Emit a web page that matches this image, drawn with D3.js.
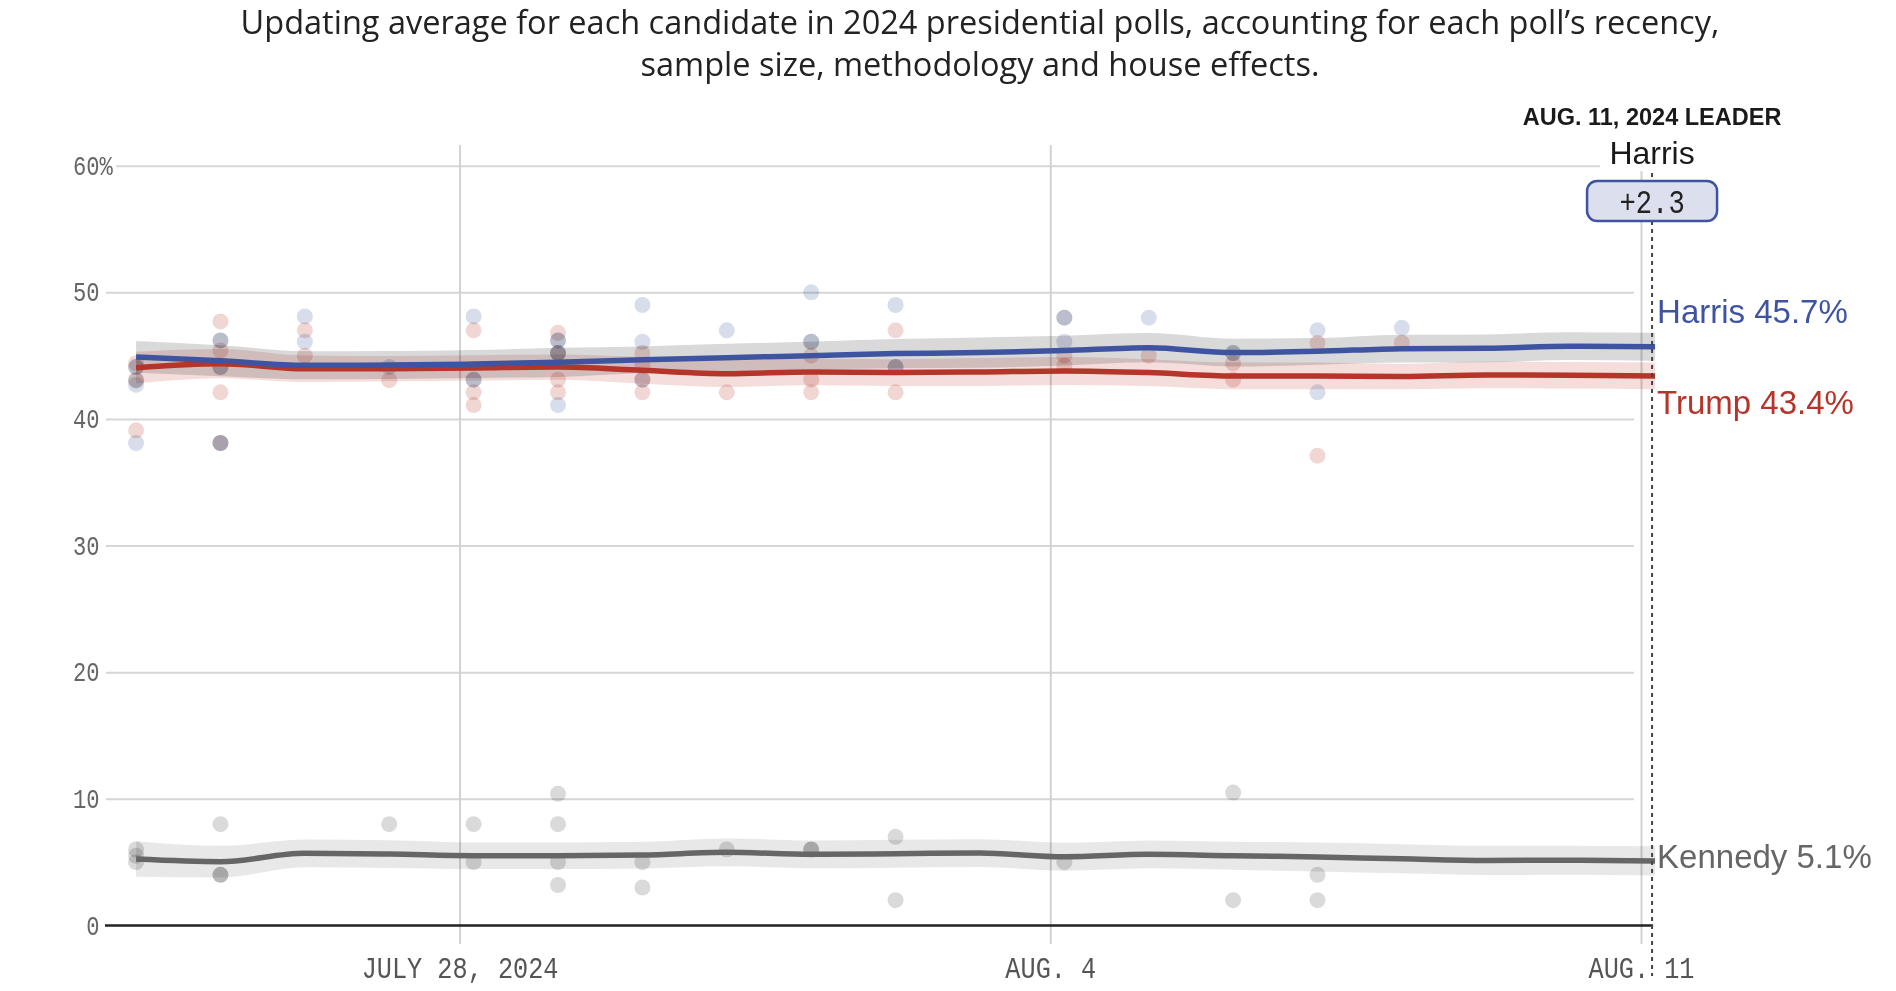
<!DOCTYPE html>
<html><head><meta charset="utf-8">
<script src="https://cdn.jsdelivr.net/npm/d3@7"></script>
<style>
html,body{margin:0;padding:0;background:#fff;}
svg{display:block;}
</style></head><body>
<svg id="chart" width="1896" height="991"></svg>
<script>
// ---------------- DATA ----------------
const dayStrings = ["2024-07-24","2024-07-25","2024-07-26","2024-07-27","2024-07-28","2024-07-29","2024-07-30","2024-07-31","2024-08-01","2024-08-02","2024-08-03","2024-08-04","2024-08-05","2024-08-06","2024-08-07","2024-08-08","2024-08-09","2024-08-10","2024-08-11"];
const harrisAvg  = [44.9,44.6,44.24,44.26,44.34,44.47,44.68,44.84,45.0,45.16,45.24,45.4,45.63,45.24,45.34,45.55,45.58,45.75,45.7];
const trumpAvg   = [44.05,44.37,43.97,43.97,44.03,44.1,43.84,43.58,43.71,43.66,43.71,43.79,43.66,43.4,43.4,43.35,43.48,43.45,43.4];
const kennedyAvg = [5.25,5.04,5.7,5.64,5.51,5.51,5.56,5.78,5.62,5.67,5.72,5.43,5.62,5.51,5.41,5.27,5.14,5.15,5.1];
const harrisBand  = [1.25,1.22,1.1,1.1,1.1,1.15,1.05,1.1,1.1,1.15,1.2,1.17,1.16,1.1,1.05,1.1,1.1,1.1,1.1];
const trumpBand   = [1.25,1.15,1.05,1.0,1.0,1.0,1.05,1.05,1.05,1.05,1.1,1.1,1.05,1.05,1.05,1.0,1.05,1.05,1.05];
const kennedyBand = [1.4,1.25,1.1,1.1,1.05,1.05,1.05,1.1,1.1,1.1,1.1,1.1,1.1,1.1,1.15,1.15,1.15,1.15,1.15];
// individual polls: [date, value, strong(1)/light(0)]
const harrisPolls = [
 ["2024-07-24",44.1,1],["2024-07-24",42.7,0],["2024-07-24",38.1,0],
 ["2024-07-25",46.2,1],["2024-07-25",44.1,1],["2024-07-25",38.1,0],
 ["2024-07-26",48.1,0],["2024-07-26",46.1,0],
 ["2024-07-27",44.1,0],
 ["2024-07-28",48.1,0],["2024-07-28",43.1,1],
 ["2024-07-29",46.2,1],["2024-07-29",45.2,0],["2024-07-29",41.1,0],
 ["2024-07-30",49.0,0],["2024-07-30",46.1,0],["2024-07-30",43.1,0],
 ["2024-07-31",47.0,0],
 ["2024-08-01",50.0,0],["2024-08-01",46.1,1],
 ["2024-08-02",49.0,0],["2024-08-02",44.1,1],
 ["2024-08-04",48.0,1],["2024-08-04",46.1,0],
 ["2024-08-05",48.0,0],
 ["2024-08-06",45.2,1],
 ["2024-08-07",47.0,0],["2024-08-07",42.1,0],
 ["2024-08-08",47.2,0]
];
const trumpPolls = [
 ["2024-07-24",44.4,0],["2024-07-24",43.06,1],["2024-07-24",39.1,0],
 ["2024-07-25",47.7,0],["2024-07-25",45.4,0],["2024-07-25",42.1,0],["2024-07-25",38.1,1],
 ["2024-07-26",47.0,0],["2024-07-26",45.0,0],
 ["2024-07-27",43.06,0],
 ["2024-07-28",47.0,0],["2024-07-28",42.1,0],["2024-07-28",41.1,0],
 ["2024-07-29",46.8,0],["2024-07-29",45.2,1],["2024-07-29",43.1,0],["2024-07-29",42.1,0],
 ["2024-07-30",45.2,0],["2024-07-30",44.2,0],["2024-07-30",43.1,0],["2024-07-30",42.1,0],
 ["2024-07-31",42.1,0],
 ["2024-08-01",45.0,0],["2024-08-01",43.1,0],["2024-08-01",42.1,0],
 ["2024-08-02",47.0,0],["2024-08-02",42.1,0],
 ["2024-08-04",45.0,0],["2024-08-04",44.2,0],
 ["2024-08-05",45.0,0],
 ["2024-08-06",44.4,0],["2024-08-06",43.1,0],
 ["2024-08-07",46.0,0],["2024-08-07",37.1,0],
 ["2024-08-08",46.0,0]
];
const kennedyPolls = [
 ["2024-07-24",6.0,0],["2024-07-24",5.5,0],["2024-07-24",5.0,0],
 ["2024-07-25",8.0,0],["2024-07-25",4.0,1],
 ["2024-07-27",8.0,0],
 ["2024-07-28",8.0,0],["2024-07-28",5.0,0],
 ["2024-07-29",10.4,0],["2024-07-29",8.0,0],["2024-07-29",5.0,0],["2024-07-29",3.2,0],
 ["2024-07-30",5.0,0],["2024-07-30",3.0,0],
 ["2024-07-31",6.0,0],
 ["2024-08-01",6.0,1],
 ["2024-08-02",7.0,0],["2024-08-02",2.0,0],
 ["2024-08-04",5.0,0],
 ["2024-08-06",10.5,0],["2024-08-06",2.0,0],
 ["2024-08-07",4.0,0],["2024-08-07",2.0,0]
];
const candidateNames = ["Harris","Trump","Kennedy"];
const yTicks = [0,10,20,30,40,50,60];
const xTickDates = ["2024-07-28","2024-08-04","2024-08-11"];
const xTickLabels = ["JULY 28, 2024","AUG. 4","AUG. 11"];
const titleLines = ["Updating average for each candidate in 2024 presidential polls, accounting for each poll\u2019s recency,","sample size, methodology and house effects."];
const leaderHeading = "AUG. 11, 2024 LEADER";

// ---------------- STYLE ----------------
const colors = {Harris:"#3e54a0", Trump:"#b5352a", Kennedy:"#666666"};
const bandColors = {Harris:"#d9d9d9", Trump:"#f5dddb", Kennedy:"#e8e8e8"};
const strongColors = {Harris:"#5b6184", Trump:"#7d5b58", Kennedy:"#555555"};
const labelDy = {Harris:-35, Trump:27, Kennedy:-4};
const monoFont = "'Liberation Mono', 'DejaVu Sans Mono', monospace";
const sansFont = "'Liberation Sans', Arial, sans-serif";
const titleFont = "'Open Sans', 'Noto Sans', sans-serif";
const titleWidth = 1479;

const candidates = [
  {name:"Kennedy", avg:kennedyAvg, band:kennedyBand, polls:kennedyPolls},
  {name:"Trump", avg:trumpAvg, band:trumpBand, polls:trumpPolls},
  {name:"Harris", avg:harrisAvg, band:harrisBand, polls:harrisPolls}
];

// ---------------- SCALES ----------------
const parse = d3.utcParse("%Y-%m-%d");
const ET_SHIFT_HOURS = 4;               // poll dates are plotted in Eastern time
const at = s => d3.utcHour.offset(parse(s), ET_SHIFT_HOURS);

const x = d3.scaleUtc()
  .domain([parse(dayStrings[0]), parse(dayStrings[dayStrings.length-1])])
  .range([122, 1641]);
const y = d3.scaleLinear().domain([0,60]).range([925.5,165.7]);

const gridLeft = 106, gridRight = 1634, vTop = 145, vBottom = 944;
const xEnd = x(at(dayStrings[dayStrings.length-1]));
const leaderX = xEnd - 3;

const svg = d3.select("#chart");

// ---------------- TITLE ----------------
const titleTexts = svg.append("g").selectAll("text").data(titleLines).join("text")
  .attr("x",980).attr("y",(d,i)=>34+i*42)
  .attr("text-anchor","middle")
  .attr("font-family",titleFont).attr("font-size",28).attr("fill","#222")
  .text(d=>d);
const measured = titleTexts.node().getComputedTextLength();
if (measured > 0) titleTexts.attr("font-size", 28 * titleWidth / measured);

// ---------------- AXES / GRID ----------------
const yAxisG = svg.append("g").attr("transform",`translate(${gridLeft},0)`)
  .call(d3.axisLeft(y).tickValues(yTicks).tickSize(-(gridRight-gridLeft)).tickPadding(8));
yAxisG.select(".domain").remove();
yAxisG.selectAll(".tick line")
  .attr("stroke","#d6d6d6").attr("stroke-width",2)
  .attr("x1",d=>d===60?10:0)
  .attr("display",d=>d===0?"none":null);
yAxisG.selectAll(".tick text")
  .attr("font-family",monoFont).attr("font-size",27).attr("fill","#666")
  .attr("transform","scale(0.82,1)");
yAxisG.selectAll(".tick").filter(d=>d===60).append("text")
  .attr("x",-8).attr("dy","0.32em").attr("text-anchor","start")
  .attr("font-family",monoFont).attr("font-size",27).attr("fill","#666")
  .attr("transform","scale(0.82,1)").text("%");

const xAxisG = svg.append("g").attr("transform",`translate(0,${vBottom})`)
  .call(d3.axisBottom(x).tickValues(xTickDates.map(parse))
    .tickSize(-(vBottom-vTop)).tickPadding(13)
    .tickFormat((d,i)=>xTickLabels[i]));
xAxisG.select(".domain").remove();
xAxisG.selectAll(".tick line").attr("stroke","#d2d2d2").attr("stroke-width",2);
xAxisG.selectAll(".tick text")
  .attr("font-family",monoFont).attr("font-size",29).attr("fill","#555")
  .attr("transform","scale(0.87,1)");

// ---------------- BANDS ----------------
const bandG = svg.append("g");
candidates.forEach(c=>{
  const area = d3.area()
    .x((d,i)=>x(at(dayStrings[i])))
    .y0((d,i)=>y(d - c.band[i]))
    .y1((d,i)=>y(d + c.band[i]))
    .curve(d3.curveMonotoneX);
  bandG.append("path").datum(c.avg)
    .attr("d",area).attr("fill",bandColors[c.name])
    .style("mix-blend-mode","multiply");
});

// ---------------- DOTS ----------------
const dotG = svg.append("g");
["Kennedy","Trump","Harris"].forEach(name=>{
  const c = candidates.find(k=>k.name===name);
  dotG.append("g").selectAll("circle").data(c.polls).join("circle")
    .attr("cx",d=>x(at(d[0]))).attr("cy",d=>y(d[1])).attr("r",8)
    .attr("fill",d=>d[2]?strongColors[name]:colors[name])
    .attr("fill-opacity",d=>d[2]?0.42:(name==="Kennedy"?0.24:0.2))
    .style("mix-blend-mode","multiply");
});

// ---------------- BASELINE ----------------
svg.append("line").attr("x1",gridLeft-1).attr("x2",xEnd-2)
  .attr("y1",y(0)).attr("y2",y(0)).attr("stroke","#222").attr("stroke-width",2.5);

// ---------------- LINES ----------------
const lineG = svg.append("g");
candidates.forEach(c=>{
  const line = d3.line()
    .x((d,i)=>x(at(dayStrings[i])))
    .y(d=>y(d))
    .curve(d3.curveMonotoneX);
  lineG.append("path").datum(c.avg).attr("d",line)
    .attr("fill","none").attr("stroke",colors[c.name]).attr("stroke-width",5.5)
    .attr("stroke-linejoin","round");
});

// ---------------- END LABELS ----------------
candidates.forEach(c=>{
  const v = c.avg[c.avg.length-1];
  svg.append("text")
    .attr("x",xEnd+2).attr("y",y(v)+labelDy[c.name]).attr("dy","0.35em")
    .attr("font-family",sansFont).attr("font-size",33).attr("fill",colors[c.name])
    .text(`${c.name} ${v.toFixed(1)}%`);
});

// ---------------- LEADER MARKER ----------------
svg.append("line").attr("x1",leaderX).attr("x2",leaderX).attr("y1",173).attr("y2",976)
  .attr("stroke","#444").attr("stroke-width",2).attr("stroke-dasharray","4,4");

const lastIdx = dayStrings.length-1;
const finals = candidates.map(c=>({name:c.name, v:c.avg[lastIdx]})).sort((a,b)=>b.v-a.v);
const margin = finals[0].v - finals[1].v;

svg.append("rect").attr("x",leaderX-52).attr("y",134).attr("width",104).attr("height",37).attr("fill","#fff");
svg.append("text").attr("x",leaderX).attr("y",125).attr("text-anchor","middle")
  .attr("font-family",sansFont).attr("font-weight","bold").attr("font-size",23.5).attr("fill","#1a1a1a")
  .text(leaderHeading);
svg.append("text").attr("x",leaderX).attr("y",164).attr("text-anchor","middle")
  .attr("font-family",sansFont).attr("font-size",32).attr("fill","#1a1a1a")
  .text(finals[0].name);
svg.append("rect").attr("x",leaderX-65).attr("y",181).attr("width",130).attr("height",40).attr("rx",10)
  .attr("fill","#dcdfee").attr("stroke",colors.Harris).attr("stroke-width",2.5);
svg.append("text").attr("transform",`translate(${leaderX},213) scale(0.8,1)`).attr("text-anchor","middle")
  .attr("font-family",monoFont).attr("font-size",34).attr("fill","#222")
  .text("+" + margin.toFixed(1));
</script>
</body></html>
